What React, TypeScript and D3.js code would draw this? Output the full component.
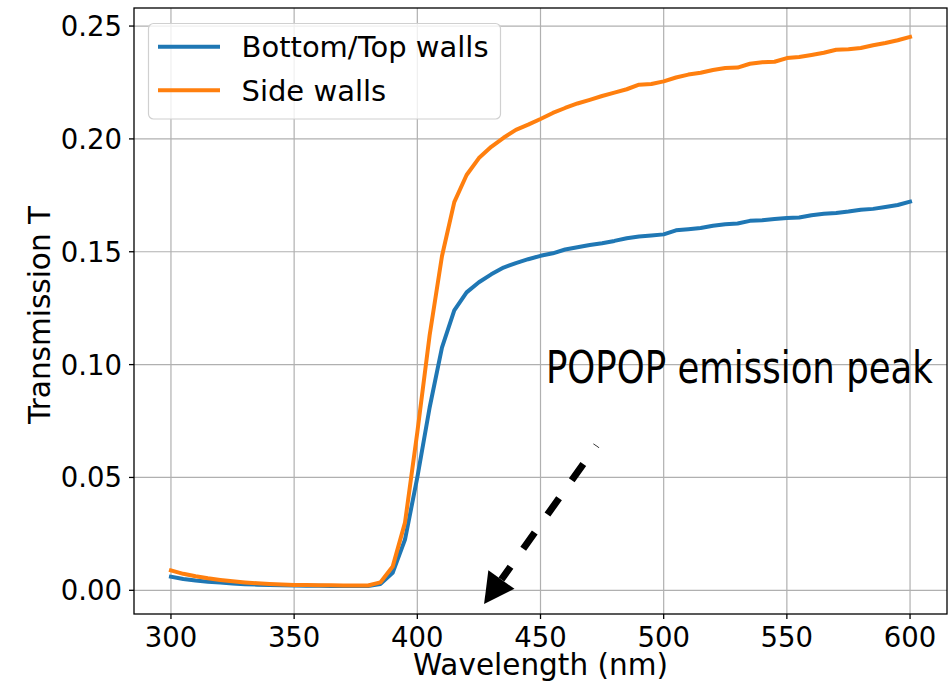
import React from 'react';
import * as d3 from 'd3';

// wavelengths sampled every 5 nm
const wavelengths = d3.range(300, 601, 5);

const bottomTop = [
  0.0060, 0.0050, 0.0043, 0.0038, 0.0034, 0.0030, 0.0027, 0.0025, 0.0023, 0.0022,
  0.0021, 0.0020, 0.0020, 0.0019, 0.0019, 0.0019, 0.0019, 0.0028, 0.0078, 0.0225,
  0.0500, 0.0810, 0.1075, 0.1240, 0.1320, 0.1365, 0.1400, 0.1430, 0.1450, 0.1467,
  0.1482, 0.1493, 0.1510, 0.1520, 0.1530, 0.1538, 0.1548, 0.1560, 0.1568, 0.1572,
  0.1577, 0.1595, 0.1600, 0.1605, 0.1615, 0.1622, 0.1625, 0.1637, 0.1640, 0.1645,
  0.1650, 0.1652, 0.1662, 0.1668, 0.1672, 0.1678, 0.1686, 0.1690, 0.1698, 0.1707,
  0.1722,
];

const sideWalls = [
  0.0088, 0.0073, 0.0062, 0.0053, 0.0046, 0.0040, 0.0035, 0.0031, 0.0028, 0.0026,
  0.0024, 0.0023, 0.0022, 0.0022, 0.0021, 0.0021, 0.0021, 0.0035, 0.0105, 0.0300,
  0.0700, 0.1130, 0.1480, 0.1720, 0.1840, 0.1915, 0.1965, 0.2005, 0.2040, 0.2063,
  0.2088, 0.2115, 0.2137, 0.2157, 0.2173, 0.2190, 0.2205, 0.2220, 0.2240, 0.2243,
  0.2255, 0.2272, 0.2285, 0.2293, 0.2305, 0.2314, 0.2316, 0.2333, 0.2340, 0.2342,
  0.2358, 0.2363, 0.2372, 0.2382, 0.2395, 0.2397, 0.2403, 0.2415, 0.2425, 0.2437,
  0.2452,
];

const xTicks = [300, 350, 400, 450, 500, 550, 600];
const yTicks = [0, 0.05, 0.1, 0.15, 0.2, 0.25];

const seriesNames = ['Bottom/Top walls', 'Side walls'];
const seriesColors = ['#1f77b4', '#ff7f0e'];

// annotation (data coords)
const noteText = 'POPOP emission peak';
const noteAt = [452.2, 0.0918];
const arrowFrom = [472.7, 0.0642];
const arrowTo = [427.1, -0.0061];

const W = 948;
const H = 684;
const M = { left: 134, right: 947, top: 8, bottom: 614 };
const FONT = '"DejaVu Sans", sans-serif';

export default function App() {
  const x = d3.scaleLinear().domain([285, 615]).range([M.left, M.right]);
  const y = d3.scaleLinear().domain([-0.0105, 0.258]).range([M.bottom, M.top]);

  const line = d3.line<number>()
    .x((_, i) => x(wavelengths[i]))
    .y(d => y(d));

  const series = [bottomTop, sideWalls];

  // arrow geometry in pixels
  const sx = x(arrowFrom[0]), sy = y(arrowFrom[1]);
  const tx = x(arrowTo[0]), ty = y(arrowTo[1]);
  const len = Math.hypot(tx - sx, ty - sy);
  const ux = (tx - sx) / len, uy = (ty - sy) / len;
  const headLen = 30, headHalf = 16;
  const bx = tx - ux * headLen, by = ty - uy * headLen;
  const head = [
    [tx, ty],
    [bx - uy * headHalf, by + ux * headHalf],
    [bx + uy * headHalf, by - ux * headHalf],
  ];

  return (
    <svg width={W} height={H} style={{ position: 'absolute', left: 0, top: 0, background: '#fff' }}
      fontFamily={FONT}>
      <rect x={0} y={0} width={W} height={H} fill="#fff" />

      {/* grid */}
      <g stroke="#b0b0b0" strokeWidth={1.2}>
        {xTicks.map(t => (
          <line key={'gx' + t} x1={x(t)} x2={x(t)} y1={M.top} y2={M.bottom} />
        ))}
        {yTicks.map(t => (
          <line key={'gy' + t} x1={M.left} x2={M.right} y1={y(t)} y2={y(t)} />
        ))}
      </g>

      {/* data */}
      <g fill="none" strokeWidth={4} strokeLinejoin="round" strokeLinecap="square">
        {series.map((s, i) => (
          <path key={i} d={line(s) || ''} stroke={seriesColors[i]} />
        ))}
      </g>

      {/* annotation, condensed face stretched a little vertically */}
      <text transform={`translate(${x(noteAt[0])},${y(noteAt[1])}) scale(1,1.14)`} fontSize={39.5}
        fontFamily={'"DejaVu Sans Condensed", "DejaVu Sans", sans-serif'} fontStretch="condensed"
        fill="#000">{noteText}</text>
      <line x1={sx} y1={sy} x2={bx} y2={by} stroke="#000" strokeWidth={7}
        strokeDasharray="20 22" strokeDashoffset={19.3} />
      <polygon points={head.map(p => p.join(',')).join(' ')} fill="#000" />

      {/* legend */}
      <g>
        <rect x={148.5} y={23.5} width={352} height={95.5} rx={5} fill="#fff" fillOpacity={0.8}
          stroke="#d0d0d0" strokeWidth={1.2} />
        {seriesNames.map((n, i) => (
          <g key={n}>
            <line x1={158} x2={220} y1={46.7 + i * 43.5} y2={46.7 + i * 43.5}
              stroke={seriesColors[i]} strokeWidth={4} />
            <text x={241.5} y={57 + i * 43.5} fontSize={29} fill="#000">{n}</text>
          </g>
        ))}
      </g>

      {/* spines */}
      <rect x={M.left} y={M.top} width={M.right - M.left} height={M.bottom - M.top}
        fill="none" stroke="#000" strokeWidth={1.3} />

      {/* ticks */}
      <g stroke="#000" strokeWidth={1.3}>
        {xTicks.map(t => (
          <line key={'tx' + t} x1={x(t)} x2={x(t)} y1={M.bottom} y2={M.bottom + 5} />
        ))}
        {yTicks.map(t => (
          <line key={'ty' + t} x1={M.left - 5} x2={M.left} y1={y(t)} y2={y(t)} />
        ))}
      </g>
      <g fontSize={27.5} fill="#000">
        {xTicks.map(t => (
          <text key={'lx' + t} x={x(t)} y={646.5} textAnchor="middle">{t}</text>
        ))}
        {yTicks.map(t => (
          <text key={'ly' + t} x={122} y={y(t) + 10} textAnchor="end">{d3.format('.2f')(t)}</text>
        ))}
      </g>

      {/* axis labels */}
      <text x={(M.left + M.right) / 2} y={675} textAnchor="middle" fontSize={29.5}>Wavelength (nm)</text>
      <text transform={`translate(50,${(M.top + M.bottom) / 2 + 4}) rotate(-90)`} textAnchor="middle"
        fontSize={29.5}>Transmission T</text>
    </svg>
  );
}
